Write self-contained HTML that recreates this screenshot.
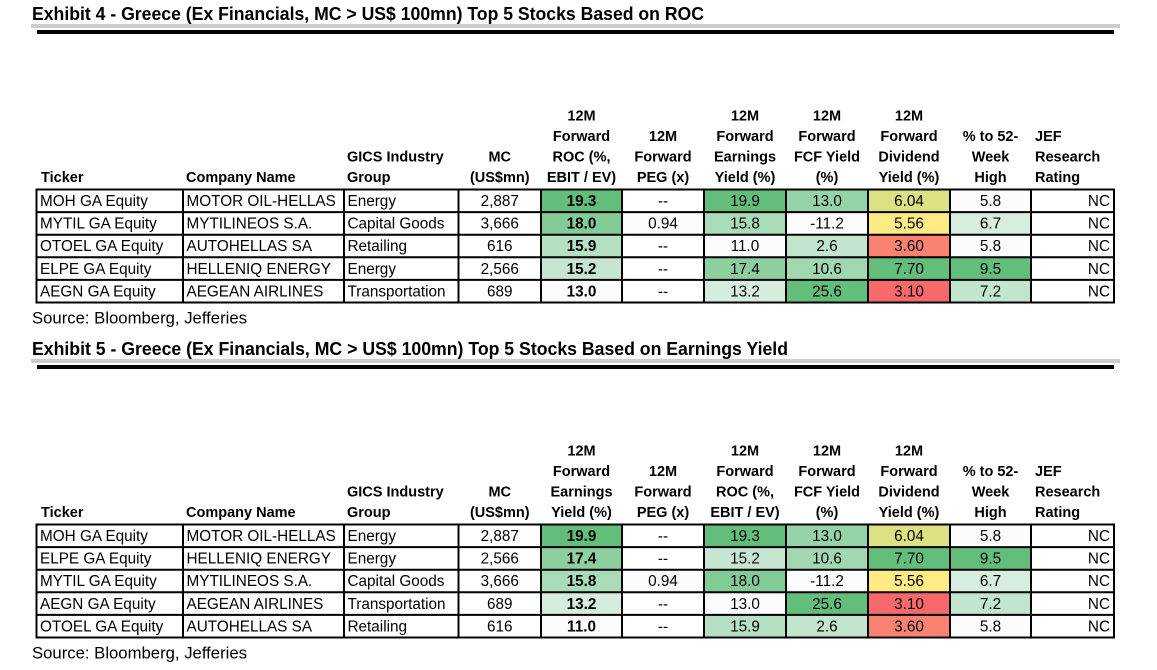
<!DOCTYPE html>
<html>
<head>
<meta charset="utf-8">
<style>
html,body{margin:0;padding:0;background:#fff;}
svg{display:block;}
text{font-family:"Liberation Sans",Arial,sans-serif;fill:#000;}
.t{font-size:18px;font-weight:bold;}
.h{font-size:14.5px;font-weight:bold;}
.b{font-size:15.3px;}
.bb{font-size:15.3px;font-weight:bold;}
.s{font-size:16.2px;}
.c{text-anchor:middle;}
.r{text-anchor:end;}
</style>
</head>
<body>
<svg width="1157" height="670" viewBox="0 0 1157 670" xmlns="http://www.w3.org/2000/svg">
<rect x="0" y="0" width="1157" height="670" fill="#fff"/>

<!-- ================= EXHIBIT 4 ================= -->
<text class="t" x="32" y="20" textLength="672" lengthAdjust="spacingAndGlyphs">Exhibit 4 - Greece (Ex Financials, MC &gt; US$ 100mn) Top 5 Stocks Based on ROC</text>
<rect x="31" y="24" width="1089" height="4" fill="#cccccc"/>
<rect x="37" y="30" width="1077" height="4" fill="#000"/>

<!-- headers -->
<text class="h" x="41" y="182">Ticker</text>
<text class="h" x="186" y="182">Company Name</text>
<text class="h" x="347" y="161.5">GICS Industry</text>
<text class="h" x="347" y="182">Group</text>
<text class="h c" x="499.75" y="161.5">MC</text>
<text class="h c" x="499.75" y="182">(US$mn)</text>

<text class="h c" x="581.5" y="120.5">12M</text>
<text class="h c" x="581.5" y="141">Forward</text>
<text class="h c" x="581.5" y="161.5">ROC (%,</text>
<text class="h c" x="581.5" y="182">EBIT / EV)</text>

<text class="h c" x="663" y="141">12M</text>
<text class="h c" x="663" y="161.5">Forward</text>
<text class="h c" x="663" y="182">PEG (x)</text>

<text class="h c" x="745" y="120.5">12M</text>
<text class="h c" x="745" y="141">Forward</text>
<text class="h c" x="745" y="161.5">Earnings</text>
<text class="h c" x="745" y="182">Yield (%)</text>

<text class="h c" x="827" y="120.5">12M</text>
<text class="h c" x="827" y="141">Forward</text>
<text class="h c" x="827" y="161.5">FCF Yield</text>
<text class="h c" x="827" y="182">(%)</text>

<text class="h c" x="909" y="120.5">12M</text>
<text class="h c" x="909" y="141">Forward</text>
<text class="h c" x="909" y="161.5">Dividend</text>
<text class="h c" x="909" y="182">Yield (%)</text>

<text class="h c" x="990.5" y="141">% to 52-</text>
<text class="h c" x="990.5" y="161.5">Week</text>
<text class="h c" x="990.5" y="182">High</text>

<text class="h" x="1035" y="141">JEF</text>
<text class="h" x="1035" y="161.5">Research</text>
<text class="h" x="1035" y="182">Rating</text>

<!-- fills table 1 -->
<g>
<rect x="541" y="189.5" width="81" height="22.6" fill="#63be7b"/>
<rect x="541" y="212.1" width="81" height="22.6" fill="rgb(131,203,150)"/>
<rect x="541" y="234.7" width="81" height="22.6" fill="rgb(182,224,194)"/>
<rect x="541" y="257.3" width="81" height="22.6" fill="rgb(199,230,209)"/>
<rect x="541" y="279.9" width="81" height="22.6" fill="#fcfcff"/>
<rect x="622" y="212.1" width="82" height="22.6" fill="#fafaff"/>
<rect x="704" y="189.5" width="82" height="22.6" fill="#63be7b"/>
<rect x="704" y="212.1" width="82" height="22.6" fill="rgb(170,219,184)"/>
<rect x="704" y="234.7" width="82" height="22.6" fill="#fcfcff"/>
<rect x="704" y="257.3" width="82" height="22.6" fill="rgb(142,207,160)"/>
<rect x="704" y="279.9" width="82" height="22.6" fill="rgb(214,237,222)"/>
<rect x="786" y="189.5" width="82" height="22.6" fill="rgb(151,211,168)"/>
<rect x="786" y="212.1" width="82" height="22.6" fill="#fcfcff"/>
<rect x="786" y="234.7" width="82" height="22.6" fill="rgb(195,229,206)"/>
<rect x="786" y="257.3" width="82" height="22.6" fill="rgb(161,215,177)"/>
<rect x="786" y="279.9" width="82" height="22.6" fill="#63be7b"/>
<rect x="868" y="189.5" width="82" height="22.6" fill="rgb(220,225,130)"/>
<rect x="868" y="212.1" width="82" height="22.6" fill="#ffeb84"/>
<rect x="868" y="234.7" width="82" height="22.6" fill="rgb(249,131,112)"/>
<rect x="868" y="257.3" width="82" height="22.6" fill="#63be7b"/>
<rect x="868" y="279.9" width="82" height="22.6" fill="#f8696b"/>
<rect x="950" y="189.5" width="81" height="22.6" fill="#fcfcff"/>
<rect x="950" y="212.1" width="81" height="22.6" fill="rgb(215,237,223)"/>
<rect x="950" y="234.7" width="81" height="22.6" fill="#fcfcff"/>
<rect x="950" y="257.3" width="81" height="22.6" fill="#63be7b"/>
<rect x="950" y="279.9" width="81" height="22.6" fill="rgb(194,229,205)"/>
</g>

<path d="M36.5 189.5H1114M36.5 212.1H1114M36.5 234.7H1114M36.5 257.3H1114M36.5 279.9H1114M36.5 302.5H1114
M36.5 189.5V302.5M183 189.5V302.5M344 189.5V302.5M458.5 189.5V302.5M541 189.5V302.5M622 189.5V302.5M704 189.5V302.5M786 189.5V302.5M868 189.5V302.5M950 189.5V302.5M1031 189.5V302.5M1114 189.5V302.5"
 stroke="#000" stroke-width="2" fill="none" stroke-linecap="square"/>

<!-- body table 1 -->
<text class="b" x="40" y="206">MOH GA Equity</text>
<text class="b" x="186.5" y="206">MOTOR OIL-HELLAS</text>
<text class="b" x="347.5" y="206">Energy</text>
<text class="b c" x="499.75" y="206">2,887</text>
<text class="bb c" x="581.5" y="206">19.3</text>
<text class="b c" x="663" y="206">--</text>
<text class="b c" x="745" y="206">19.9</text>
<text class="b c" x="827" y="206">13.0</text>
<text class="b c" x="909" y="206">6.04</text>
<text class="b c" x="990.5" y="206">5.8</text>
<text class="b r" x="1110" y="206">NC</text>

<text class="b" x="40" y="228.6">MYTIL GA Equity</text>
<text class="b" x="186.5" y="228.6">MYTILINEOS S.A.</text>
<text class="b" x="347.5" y="228.6">Capital Goods</text>
<text class="b c" x="499.75" y="228.6">3,666</text>
<text class="bb c" x="581.5" y="228.6">18.0</text>
<text class="b c" x="663" y="228.6">0.94</text>
<text class="b c" x="745" y="228.6">15.8</text>
<text class="b c" x="827" y="228.6">-11.2</text>
<text class="b c" x="909" y="228.6">5.56</text>
<text class="b c" x="990.5" y="228.6">6.7</text>
<text class="b r" x="1110" y="228.6">NC</text>

<text class="b" x="40" y="251.2">OTOEL GA Equity</text>
<text class="b" x="186.5" y="251.2">AUTOHELLAS SA</text>
<text class="b" x="347.5" y="251.2">Retailing</text>
<text class="b c" x="499.75" y="251.2">616</text>
<text class="bb c" x="581.5" y="251.2">15.9</text>
<text class="b c" x="663" y="251.2">--</text>
<text class="b c" x="745" y="251.2">11.0</text>
<text class="b c" x="827" y="251.2">2.6</text>
<text class="b c" x="909" y="251.2">3.60</text>
<text class="b c" x="990.5" y="251.2">5.8</text>
<text class="b r" x="1110" y="251.2">NC</text>

<text class="b" x="40" y="273.8">ELPE GA Equity</text>
<text class="b" x="186.5" y="273.8">HELLENIQ ENERGY</text>
<text class="b" x="347.5" y="273.8">Energy</text>
<text class="b c" x="499.75" y="273.8">2,566</text>
<text class="bb c" x="581.5" y="273.8">15.2</text>
<text class="b c" x="663" y="273.8">--</text>
<text class="b c" x="745" y="273.8">17.4</text>
<text class="b c" x="827" y="273.8">10.6</text>
<text class="b c" x="909" y="273.8">7.70</text>
<text class="b c" x="990.5" y="273.8">9.5</text>
<text class="b r" x="1110" y="273.8">NC</text>

<text class="b" x="40" y="296.4">AEGN GA Equity</text>
<text class="b" x="186.5" y="296.4">AEGEAN AIRLINES</text>
<text class="b" x="347.5" y="296.4">Transportation</text>
<text class="b c" x="499.75" y="296.4">689</text>
<text class="bb c" x="581.5" y="296.4">13.0</text>
<text class="b c" x="663" y="296.4">--</text>
<text class="b c" x="745" y="296.4">13.2</text>
<text class="b c" x="827" y="296.4">25.6</text>
<text class="b c" x="909" y="296.4">3.10</text>
<text class="b c" x="990.5" y="296.4">7.2</text>
<text class="b r" x="1110" y="296.4">NC</text>

<text class="s" x="32" y="323.5" textLength="215" lengthAdjust="spacingAndGlyphs">Source: Bloomberg, Jefferies</text>

<!-- ================= EXHIBIT 5 ================= -->
<text class="t" x="32" y="355" textLength="756" lengthAdjust="spacingAndGlyphs">Exhibit 5 - Greece (Ex Financials, MC &gt; US$ 100mn) Top 5 Stocks Based on Earnings Yield</text>
<rect x="31" y="359" width="1089" height="4" fill="#cccccc"/>
<rect x="37" y="365" width="1077" height="4" fill="#000"/>

<text class="h" x="41" y="517">Ticker</text>
<text class="h" x="186" y="517">Company Name</text>
<text class="h" x="347" y="496.5">GICS Industry</text>
<text class="h" x="347" y="517">Group</text>
<text class="h c" x="499.75" y="496.5">MC</text>
<text class="h c" x="499.75" y="517">(US$mn)</text>

<text class="h c" x="581.5" y="455.5">12M</text>
<text class="h c" x="581.5" y="476">Forward</text>
<text class="h c" x="581.5" y="496.5">Earnings</text>
<text class="h c" x="581.5" y="517">Yield (%)</text>

<text class="h c" x="663" y="476">12M</text>
<text class="h c" x="663" y="496.5">Forward</text>
<text class="h c" x="663" y="517">PEG (x)</text>

<text class="h c" x="745" y="455.5">12M</text>
<text class="h c" x="745" y="476">Forward</text>
<text class="h c" x="745" y="496.5">ROC (%,</text>
<text class="h c" x="745" y="517">EBIT / EV)</text>

<text class="h c" x="827" y="455.5">12M</text>
<text class="h c" x="827" y="476">Forward</text>
<text class="h c" x="827" y="496.5">FCF Yield</text>
<text class="h c" x="827" y="517">(%)</text>

<text class="h c" x="909" y="455.5">12M</text>
<text class="h c" x="909" y="476">Forward</text>
<text class="h c" x="909" y="496.5">Dividend</text>
<text class="h c" x="909" y="517">Yield (%)</text>

<text class="h c" x="990.5" y="476">% to 52-</text>
<text class="h c" x="990.5" y="496.5">Week</text>
<text class="h c" x="990.5" y="517">High</text>

<text class="h" x="1035" y="476">JEF</text>
<text class="h" x="1035" y="496.5">Research</text>
<text class="h" x="1035" y="517">Rating</text>

<g>
<rect x="541" y="524.5" width="81" height="22.6" fill="#63be7b"/>
<rect x="541" y="547.1" width="81" height="22.6" fill="rgb(142,207,160)"/>
<rect x="541" y="569.7" width="81" height="22.6" fill="rgb(170,219,184)"/>
<rect x="541" y="592.3" width="81" height="22.6" fill="rgb(214,237,222)"/>
<rect x="541" y="614.9" width="81" height="22.6" fill="#fcfcff"/>
<rect x="622" y="569.7" width="82" height="22.6" fill="#fafaff"/>
<rect x="704" y="524.5" width="82" height="22.6" fill="#63be7b"/>
<rect x="704" y="547.1" width="82" height="22.6" fill="rgb(199,230,209)"/>
<rect x="704" y="569.7" width="82" height="22.6" fill="rgb(131,203,150)"/>
<rect x="704" y="592.3" width="82" height="22.6" fill="#fcfcff"/>
<rect x="704" y="614.9" width="82" height="22.6" fill="rgb(182,224,194)"/>
<rect x="786" y="524.5" width="82" height="22.6" fill="rgb(151,211,168)"/>
<rect x="786" y="547.1" width="82" height="22.6" fill="rgb(161,215,177)"/>
<rect x="786" y="569.7" width="82" height="22.6" fill="#fcfcff"/>
<rect x="786" y="592.3" width="82" height="22.6" fill="#63be7b"/>
<rect x="786" y="614.9" width="82" height="22.6" fill="rgb(195,229,206)"/>
<rect x="868" y="524.5" width="82" height="22.6" fill="rgb(220,225,130)"/>
<rect x="868" y="547.1" width="82" height="22.6" fill="#63be7b"/>
<rect x="868" y="569.7" width="82" height="22.6" fill="#ffeb84"/>
<rect x="868" y="592.3" width="82" height="22.6" fill="#f8696b"/>
<rect x="868" y="614.9" width="82" height="22.6" fill="rgb(249,131,112)"/>
<rect x="950" y="524.5" width="81" height="22.6" fill="#fcfcff"/>
<rect x="950" y="547.1" width="81" height="22.6" fill="#63be7b"/>
<rect x="950" y="569.7" width="81" height="22.6" fill="rgb(215,237,223)"/>
<rect x="950" y="592.3" width="81" height="22.6" fill="rgb(194,229,205)"/>
<rect x="950" y="614.9" width="81" height="22.6" fill="#fcfcff"/>
</g>

<path d="M36.5 524.5H1114M36.5 547.1H1114M36.5 569.7H1114M36.5 592.3H1114M36.5 614.9H1114M36.5 637.5H1114
M36.5 524.5V637.5M183 524.5V637.5M344 524.5V637.5M458.5 524.5V637.5M541 524.5V637.5M622 524.5V637.5M704 524.5V637.5M786 524.5V637.5M868 524.5V637.5M950 524.5V637.5M1031 524.5V637.5M1114 524.5V637.5"
 stroke="#000" stroke-width="2" fill="none" stroke-linecap="square"/>

<text class="b" x="40" y="541">MOH GA Equity</text>
<text class="b" x="186.5" y="541">MOTOR OIL-HELLAS</text>
<text class="b" x="347.5" y="541">Energy</text>
<text class="b c" x="499.75" y="541">2,887</text>
<text class="bb c" x="581.5" y="541">19.9</text>
<text class="b c" x="663" y="541">--</text>
<text class="b c" x="745" y="541">19.3</text>
<text class="b c" x="827" y="541">13.0</text>
<text class="b c" x="909" y="541">6.04</text>
<text class="b c" x="990.5" y="541">5.8</text>
<text class="b r" x="1110" y="541">NC</text>

<text class="b" x="40" y="563.6">ELPE GA Equity</text>
<text class="b" x="186.5" y="563.6">HELLENIQ ENERGY</text>
<text class="b" x="347.5" y="563.6">Energy</text>
<text class="b c" x="499.75" y="563.6">2,566</text>
<text class="bb c" x="581.5" y="563.6">17.4</text>
<text class="b c" x="663" y="563.6">--</text>
<text class="b c" x="745" y="563.6">15.2</text>
<text class="b c" x="827" y="563.6">10.6</text>
<text class="b c" x="909" y="563.6">7.70</text>
<text class="b c" x="990.5" y="563.6">9.5</text>
<text class="b r" x="1110" y="563.6">NC</text>

<text class="b" x="40" y="586.2">MYTIL GA Equity</text>
<text class="b" x="186.5" y="586.2">MYTILINEOS S.A.</text>
<text class="b" x="347.5" y="586.2">Capital Goods</text>
<text class="b c" x="499.75" y="586.2">3,666</text>
<text class="bb c" x="581.5" y="586.2">15.8</text>
<text class="b c" x="663" y="586.2">0.94</text>
<text class="b c" x="745" y="586.2">18.0</text>
<text class="b c" x="827" y="586.2">-11.2</text>
<text class="b c" x="909" y="586.2">5.56</text>
<text class="b c" x="990.5" y="586.2">6.7</text>
<text class="b r" x="1110" y="586.2">NC</text>

<text class="b" x="40" y="608.8">AEGN GA Equity</text>
<text class="b" x="186.5" y="608.8">AEGEAN AIRLINES</text>
<text class="b" x="347.5" y="608.8">Transportation</text>
<text class="b c" x="499.75" y="608.8">689</text>
<text class="bb c" x="581.5" y="608.8">13.2</text>
<text class="b c" x="663" y="608.8">--</text>
<text class="b c" x="745" y="608.8">13.0</text>
<text class="b c" x="827" y="608.8">25.6</text>
<text class="b c" x="909" y="608.8">3.10</text>
<text class="b c" x="990.5" y="608.8">7.2</text>
<text class="b r" x="1110" y="608.8">NC</text>

<text class="b" x="40" y="631.4">OTOEL GA Equity</text>
<text class="b" x="186.5" y="631.4">AUTOHELLAS SA</text>
<text class="b" x="347.5" y="631.4">Retailing</text>
<text class="b c" x="499.75" y="631.4">616</text>
<text class="bb c" x="581.5" y="631.4">11.0</text>
<text class="b c" x="663" y="631.4">--</text>
<text class="b c" x="745" y="631.4">15.9</text>
<text class="b c" x="827" y="631.4">2.6</text>
<text class="b c" x="909" y="631.4">3.60</text>
<text class="b c" x="990.5" y="631.4">5.8</text>
<text class="b r" x="1110" y="631.4">NC</text>

<text class="s" x="32" y="658.5" textLength="215" lengthAdjust="spacingAndGlyphs">Source: Bloomberg, Jefferies</text>
</svg>
</body>
</html>
